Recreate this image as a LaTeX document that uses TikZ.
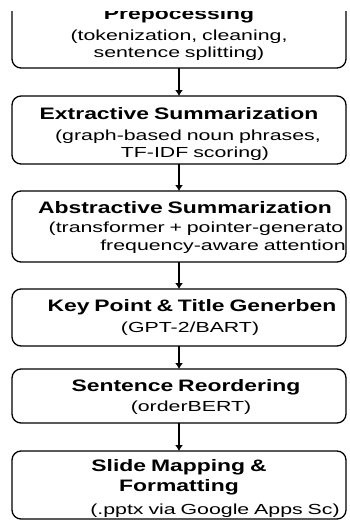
\documentclass[tikz,border=0pt]{standalone}
\usepackage{fontspec}
\setmainfont{Liberation Sans}[FakeStretch=1.46]
\newfontfamily\headfamily{Liberation Sans}[FakeStretch=1.38]
\usetikzlibrary{positioning,arrows.meta}

\newcommand{\headfont}{\headfamily\bfseries\fontsize{16.6}{19}\selectfont}
\newcommand{\bodyfont}{\fontsize{14.6}{17.5}\selectfont}
% shift one line sideways by twice the first argument's half
\newcommand{\nudge}[2]{\makebox[0pt]{\hspace*{#1}\hspace*{#1}#2}}

\tikzset{
  stage/.style={draw, line width=1.3pt, rounded corners=9pt, minimum width=334pt,
    text width=326pt, inner xsep=4pt, inner ysep=1pt, outer sep=0pt,
    align=center, font=\bodyfont},
  flow/.style={-{Latex[length=6pt,width=8pt]}, line width=1.3pt},
}

\begin{document}
\begin{tikzpicture}
\useasboundingbox (0,0) rectangle (349pt,-522pt);
\clip (0,-11pt) rectangle (349pt,-522pt);
% pipeline stages
\node (pre) [stage, minimum height=73pt, anchor=south] at (179pt,-68pt)
  {{\headfont\rule{0pt}{17pt}Prepocessing}\\[3.5pt] (tokenization, cleaning,\\ sentence splitting)};
\node (ext) [stage, minimum height=68pt, below=28pt of pre]
  {{\headfont\rule{0pt}{20pt}Extractive Summarization}\\[3.5pt] \nudge{9pt}{(graph-based noun phrases,}\\ \nudge{16pt}{TF-IDF scoring)}};
\node (abs) [stage, minimum height=71pt, below=27pt of ext]
  {{\headfont\rule{0pt}{14pt}\nudge{6pt}{Abstractive Summarization}}\\[1.5pt] \nudge{17pt}{(transformer + pointer-generato}\\ \nudge{44pt}{frequency-aware attention}};
\node (key) [stage, minimum height=57pt, below=27pt of abs]
  {{\headfont \nudge{13pt}{Key Point \& Title Generben}}\\[3.5pt] \nudge{11pt}{(GPT-2/BART)}};
\node (ord) [stage, minimum height=54pt, below=23pt of key]
  {{\headfont\rule{0pt}{14pt}\nudge{7pt}{Sentence Reordering}}\\[2.5pt] \nudge{12pt}{(orderBERT)}};
\node (map) [stage, minimum height=68pt, below=28pt of ord]
  {{\headfont\rule{0pt}{19pt}Slide Mapping \&}\\[2.5pt] {\headfont Formatting}\\[5.5pt] \nudge{36pt}{(.pptx via Google Apps Sc)}};
% arrows between stages
\draw [flow] (pre) -- (ext);
\draw [flow] (ext) -- (abs);
\draw [flow] (abs) -- (key);
\draw [flow] (key) -- (ord);
\draw [flow] (ord) -- (map);
\end{tikzpicture}
\end{document}
